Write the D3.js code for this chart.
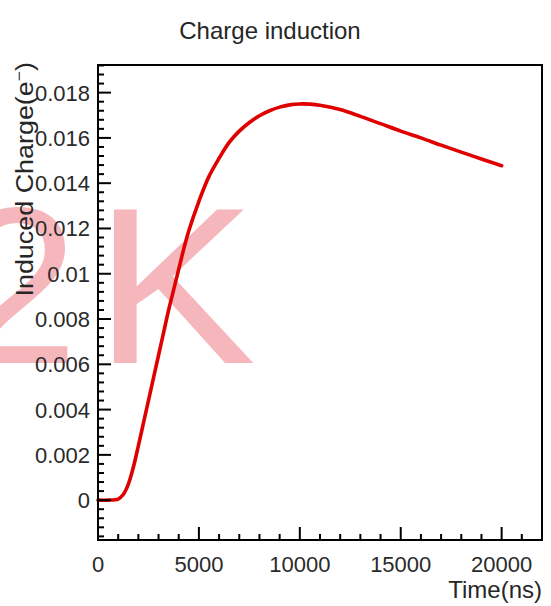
<!DOCTYPE html>
<html>
<head>
<meta charset="utf-8">
<script src="https://cdn.jsdelivr.net/npm/d3@7/dist/d3.min.js"></script>
<style>
  html, body { margin: 0; padding: 0; background: #fff; }
  svg { display: block; }
  text { font-family: "Liberation Sans", Arial, Helvetica, sans-serif; }
</style>
</head>
<body>
<svg id="chart" width="551" height="606"></svg>
<script>
// Induced charge on the electrode versus drift time
const timeNs = [0, 500, 1000, 1250, 1500, 1750, 2000, 2250, 2500, 2750, 3000, 3250, 3500, 3750,
                4000, 4250, 4500, 5000, 5500, 6000, 6500, 7000, 7500, 8000, 8500, 9000, 9500,
                10000, 10500, 11000, 12000, 13000, 14000, 15000, 16000, 17000, 18000, 19000, 20000];
const charge = [0, 0, 0.00005, 0.00025, 0.0007, 0.00145, 0.0024, 0.0034, 0.0044, 0.0054, 0.0064, 0.0074, 0.0084, 0.0093,
                0.0102, 0.0111, 0.0119, 0.0132, 0.0143, 0.0151, 0.0158, 0.0163, 0.01668, 0.01698, 0.0172, 0.01736, 0.01746,
                0.0175, 0.01749, 0.01744, 0.01725, 0.01695, 0.01663, 0.0163, 0.0160, 0.01568, 0.01537, 0.01507, 0.01477];

const xTicks = [0, 5000, 10000, 15000, 20000];
const yTicks = [0, 0.002, 0.004, 0.006, 0.008, 0.01, 0.012, 0.014, 0.016, 0.018];
const xDomain = [0, 22000];
const yDomain = [-0.00176, 0.01922];

const titleText = "Charge induction";
const xTitle = "Time(ns)";

const svg = d3.select("#chart");
const frame = { left: 98, right: 542, top: 65, bottom: 540 };

const x = d3.scaleLinear().domain(xDomain).range([frame.left, frame.right]);
const y = d3.scaleLinear().domain(yDomain).range([frame.bottom, frame.top]);

// Watermark lettering behind the plot
const wm = svg.append("g").attr("fill", "#f5b6bc");
wm.append("text").attr("x", -45).attr("y", 363).attr("font-size", 222).text("2");
wm.append("text").attr("x", 94).attr("y", 363).attr("font-size", 222)
  .attr("textLength", 162).attr("lengthAdjust", "spacingAndGlyphs").text("K");

// Title
svg.append("text")
  .attr("x", 270).attr("y", 39)
  .attr("text-anchor", "middle")
  .attr("font-size", 24)
  .attr("fill", "#262626")
  .text(titleText);

// Curve
const line = d3.line()
  .x((d, i) => x(timeNs[i]))
  .y(d => y(d))
  .curve(d3.curveCatmullRom.alpha(0.5));

svg.append("path")
  .datum(charge)
  .attr("d", line)
  .attr("fill", "none")
  .attr("stroke", "#e00000")
  .attr("stroke-width", 3.6)
  .attr("stroke-linejoin", "round")
  .attr("stroke-linecap", "round");

// Bottom axis: ticks pointing into the frame
const xMinor = d3.range(0, 22001, 1000);
const xAxis = svg.append("g").attr("transform", `translate(0,${frame.bottom})`);
xAxis.selectAll("line.minor").data(xMinor).join("line")
  .attr("x1", d => x(d)).attr("x2", d => x(d))
  .attr("y1", 0).attr("y2", d => (d % 5000 === 0 ? -13 : -6))
  .attr("stroke", "#000").attr("stroke-width", 2);
xAxis.selectAll("text").data(xTicks).join("text")
  .attr("x", d => x(d)).attr("y", 32)
  .attr("text-anchor", "middle")
  .attr("font-size", 22)
  .attr("fill", "#2a2a2a")
  .text(d => d3.format("d")(d));

// Left axis
const yMinor = d3.range(-0.0016, 0.01921, 0.0004);
const yAxis = svg.append("g").attr("transform", `translate(${frame.left},0)`);
yAxis.selectAll("line.minor").data(yMinor).join("line")
  .attr("y1", d => y(d)).attr("y2", d => y(d))
  .attr("x1", 0)
  .attr("x2", d => (Math.abs(Math.round(d / 0.0004)) % 5 === 0 ? 13 : 6))
  .attr("stroke", "#000").attr("stroke-width", 2);
yAxis.selectAll("text").data(yTicks).join("text")
  .attr("x", -8).attr("y", d => y(d) + 8)
  .attr("text-anchor", "end")
  .attr("font-size", 22)
  .attr("fill", "#2a2a2a")
  .text(d => d === 0 ? "0" : String(+d.toFixed(3)));

// Frame
svg.append("rect")
  .attr("x", frame.left).attr("y", frame.top)
  .attr("width", frame.right - frame.left).attr("height", frame.bottom - frame.top)
  .attr("fill", "none").attr("stroke", "#000").attr("stroke-width", 2);

// Axis titles
svg.append("text")
  .attr("x", frame.right).attr("y", 598)
  .attr("text-anchor", "end")
  .attr("font-size", 24)
  .attr("fill", "#262626")
  .text(xTitle);

const yt = svg.append("text")
  .attr("transform", "translate(33,62) rotate(-90) scale(1.17,1)")
  .attr("text-anchor", "end")
  .attr("font-size", 23)
  .attr("fill", "#262626");
yt.append("tspan").text("Induced Charge(e");
yt.append("tspan").attr("font-size", 15).attr("dy", -9).text("−");
yt.append("tspan").attr("dy", 9).text(")");
</script>
</body>
</html>
